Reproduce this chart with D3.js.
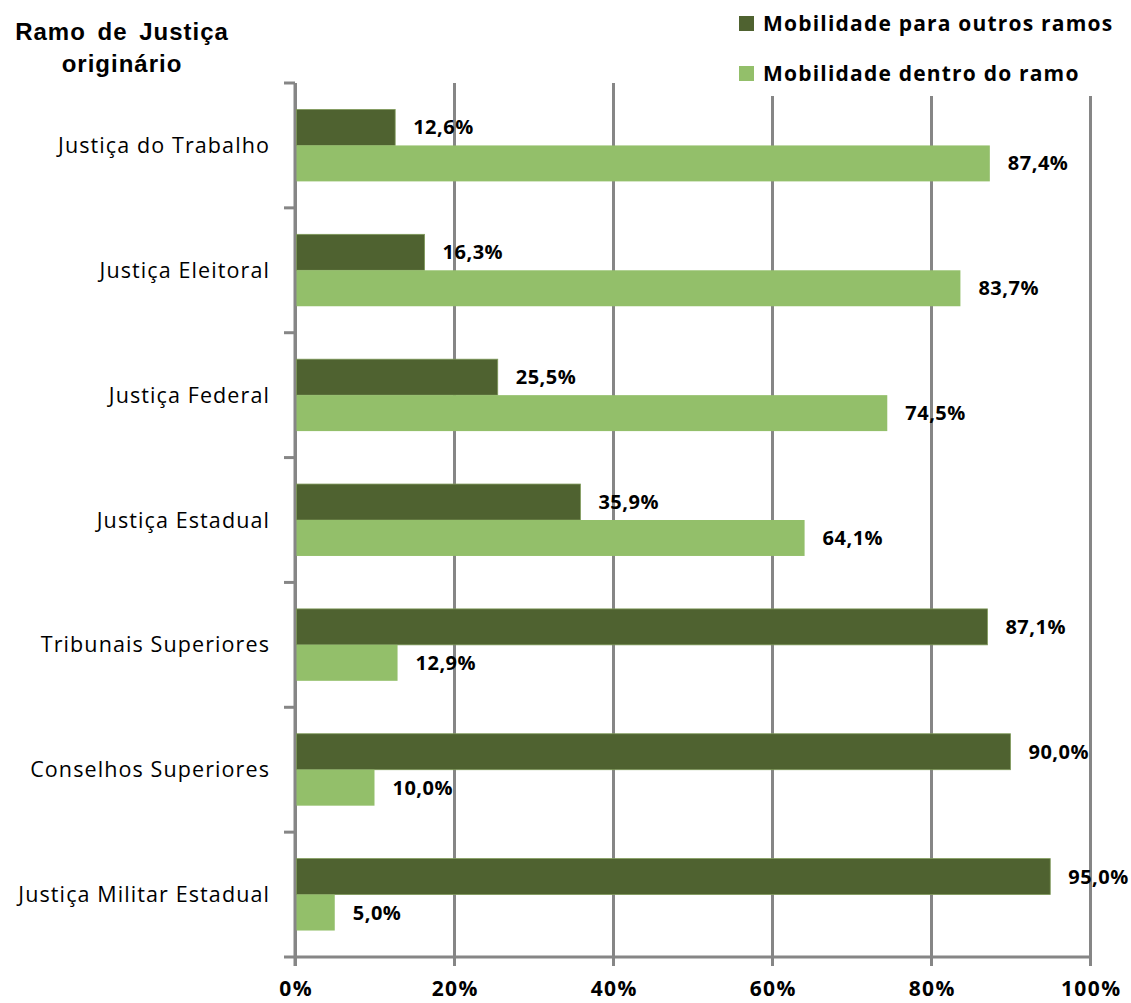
<!DOCTYPE html>
<html><head><meta charset="utf-8">
<script src="https://cdn.jsdelivr.net/npm/d3@7"></script>
<style>body{margin:0;background:#fff}svg{display:block}</style>
</head><body>
<svg id="chart" width="1131" height="1003"></svg>
<script>
const categories = ["Justiça do Trabalho","Justiça Eleitoral","Justiça Federal","Justiça Estadual","Tribunais Superiores","Conselhos Superiores","Justiça Militar Estadual"];
const outrosRamos = [12.6,16.3,25.5,35.9,87.1,90.0,95.0];
const dentroRamo = [87.4,83.7,74.5,64.1,12.9,10.0,5.0];
const seriesNames = ["Mobilidade para outros ramos","Mobilidade dentro do ramo"];
const xTicks = [0,20,40,60,80,100];
const colors = ["#4F6230","#93BF6A"];

const svg = d3.select("#chart");
const pLeft = 295, pRight = 1090, pTop = 83, pBottom = 957;
const x = d3.scaleLinear().domain([0,100]).range([pLeft,pRight]);
const y = d3.scaleBand().domain(categories).range([pTop,pBottom]).paddingInner(0.424).paddingOuter(0.212);
const sub = d3.scaleBand().domain([0,1]).range([0,y.bandwidth()]);
const fontB = "'Open Sans', sans-serif";

// gridlines
const gx = svg.append("g").attr("transform",`translate(0,${pBottom})`)
  .call(d3.axisBottom(x).tickValues(xTicks).tickSize(-(pBottom-pTop)).tickSizeOuter(0).tickFormat(""));
gx.select(".domain").remove();
gx.selectAll(".tick line").attr("stroke","#868686").attr("stroke-width",3);
// small tick extension below axis
const gx2 = svg.append("g").attr("transform",`translate(0,${pBottom})`)
  .call(d3.axisBottom(x).tickValues(xTicks).tickSize(9).tickFormat(d=>d+"%"));
gx2.select(".domain").attr("stroke","#868686").attr("stroke-width",3).attr("d",`M${pLeft},0H${pRight}`);
gx2.selectAll(".tick line").attr("stroke","#868686").attr("stroke-width",3);
gx2.selectAll(".tick text").attr("y",32).attr("dy","0.35em").attr("dx","0.7")
  .attr("font-family",fontB).attr("font-weight","bold").attr("font-size",21)
  .attr("letter-spacing",1.4).attr("fill","#000");

// y axis
const ticksY = d3.range(categories.length+1).map(i=>pTop+i*y.step());
svg.append("line").attr("x1",pLeft).attr("x2",pLeft).attr("y1",pTop).attr("y2",pBottom+9)
  .attr("stroke","#868686").attr("stroke-width",3);
svg.selectAll(".ytick").data(ticksY).join("line")
  .attr("x1",pLeft-11).attr("x2",pLeft).attr("y1",d=>d).attr("y2",d=>d)
  .attr("stroke","#868686").attr("stroke-width",3);

// bars
const data = categories.map((c,i)=>({c, vals:[outrosRamos[i],dentroRamo[i]]}));
const grp = svg.selectAll(".cat").data(data).join("g").attr("transform",d=>`translate(0,${y(d.c)})`);
grp.selectAll("rect").data(d=>d.vals.map((v,k)=>({v,k}))).join("rect")
  .attr("x",x(0)+1.5).attr("y",d=>sub(d.k)).attr("height",sub.bandwidth())
  .attr("width",d=>x(d.v)-x(0)-1.5).attr("fill",d=>colors[d.k])
  .attr("stroke",d=>d.k===0?"#7f9a5a":"none").attr("stroke-width",0.8);
grp.selectAll("text").data(d=>d.vals.map((v,k)=>({v,k}))).join("text")
  .attr("x",d=>x(d.v)+18).attr("y",d=>sub(d.k)+sub.bandwidth()/2).attr("dy","0.35em")
  .attr("font-family",fontB).attr("font-weight","bold").attr("font-size",20)
  .attr("letter-spacing",0.5).attr("fill","#000")
  .text(d=>d.v.toFixed(1).replace(".",",")+"%");

// category labels
svg.selectAll(".clab").data(categories).join("text")
  .attr("x",270).attr("y",d=>y(d)+y.bandwidth()/2).attr("dy","0.35em").attr("text-anchor","end")
  .attr("font-family",fontB).attr("font-size",21.5).attr("letter-spacing",1.1).attr("fill","#000").text(d=>d);

// title
const t = svg.append("text").attr("font-family","'Liberation Sans', Arial, sans-serif")
  .attr("font-weight","bold").attr("font-size",24).attr("letter-spacing",1).attr("word-spacing",4)
  .attr("text-anchor","middle").attr("fill","#000");
t.append("tspan").attr("x",122).attr("y",40).text("Ramo de Justiça");
t.append("tspan").attr("x",122).attr("y",72).text("originário");

// legend
const lg = svg.append("g");
lg.append("rect").attr("x",732).attr("y",0).attr("width",399).attr("height",96).attr("fill","#fff");
seriesNames.forEach((s,i)=>{
  lg.append("rect").attr("x",739).attr("y",16+i*50).attr("width",15).attr("height",15).attr("fill",colors[i]);
  lg.append("text").attr("x",763).attr("y",23.5+i*50).attr("dy","0.35em")
    .attr("font-family",fontB).attr("font-weight","bold").attr("font-size",21)
    .attr("letter-spacing",1.2).attr("fill","#000").text(s);
});
</script>
</body></html>
